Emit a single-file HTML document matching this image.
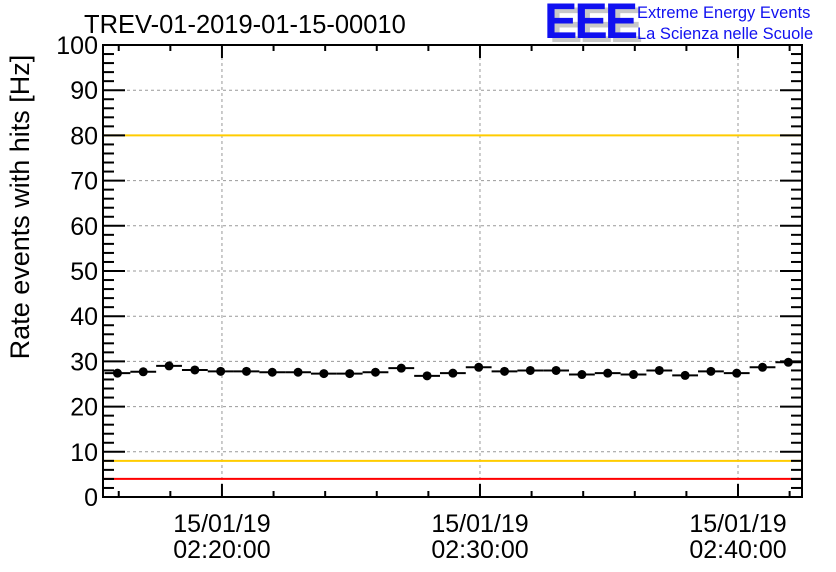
<!DOCTYPE html>
<html><head><meta charset="utf-8"><style>
body{margin:0;background:#fff;}
svg{display:block;font-family:"Liberation Sans",sans-serif;}
</style></head><body>
<svg id="chart" width="836" height="572" viewBox="0 0 836 572" xmlns="http://www.w3.org/2000/svg">
<rect width="836" height="572" fill="#fff"/>
<text x="84" y="33" font-size="25.5" fill="#000">TREV-01-2019-01-15-00010</text>
<g>
<text x="549" y="42" font-size="50" font-weight="bold" fill="#c8c8c8" letter-spacing="-3">EEE</text>
<text x="544" y="38" font-size="50" font-weight="bold" fill="#1010f0" letter-spacing="-3">EEE</text>
<text x="637" y="18" font-size="16.5" fill="#1010f0">Extreme Energy Events</text>
<text x="637" y="39" font-size="16.5" fill="#1010f0">La Scienza nelle Scuole</text>
</g>
<text transform="translate(29,207) rotate(-90)" text-anchor="middle" font-size="27" fill="#000">Rate events with hits [Hz]</text>
<g id="grid"></g><g id="thr"></g><g id="axes"></g><g id="marks"></g>
</svg>
<script>
const minutes = [15.95,16.95,17.95,18.95,19.95,20.95,21.95,22.95,23.95,24.95,25.95,26.95,27.95,28.95,29.95,30.95,31.95,32.95,33.95,34.95,35.95,36.95,37.95,38.95,39.95,40.95,41.95];
const rates = [27.4,27.7,29.0,28.1,27.8,27.8,27.6,27.6,27.3,27.3,27.6,28.5,26.8,27.4,28.7,27.8,28.0,28.0,27.1,27.4,27.1,28.0,26.9,27.8,27.4,28.7,29.8];
const yTicks = [0,10,20,30,40,50,60,70,80,90,100];
const xTickMinutes = [20,30,40];
const xTickLabels = [["15/01/19","02:20:00"],["15/01/19","02:30:00"],["15/01/19","02:40:00"]];
const redLevels = [4,100];
const yellowLevels = [8,80];

const L=103,R=802,T=45,B=497;
const xMin=15.39,xMax=42.48;
const X=m=>L+(m-xMin)/(xMax-xMin)*(R-L);
const Y=v=>B-v/100*(B-T);
const NS="http://www.w3.org/2000/svg";
function mk(tag,attrs,parent){const e=document.createElementNS(NS,tag);for(const k in attrs)e.setAttribute(k,attrs[k]);document.getElementById(parent).appendChild(e);return e;}

yTicks.forEach(v=>{if(v>0&&v<100){const e=mk('line',{x1:L,x2:R,y1:Y(v),y2:Y(v),stroke:'#999','stroke-dasharray':'3,3','stroke-width':1},'grid');

}});
xTickMinutes.forEach(m=>{const e=mk('line',{x1:X(m),x2:X(m),y1:T,y2:B,stroke:'#999','stroke-dasharray':'3,3','stroke-width':1},'grid');

});
redLevels.forEach(v=>{const e=mk('line',{x1:L,x2:R,y1:Y(v),y2:Y(v),stroke:'#f00','stroke-width':2},'thr');

});
yellowLevels.forEach(v=>{const e=mk('line',{x1:L,x2:R,y1:Y(v),y2:Y(v),stroke:'#fc0','stroke-width':2},'thr');

});
const fr=mk('rect',{x:L,y:T,width:R-L,height:B-T,fill:'none',stroke:'#000','stroke-width':2},'axes');


for(let v=0;v<=100;v+=2){const major=v%10===0;const len=major?22:11;
 mk('line',{x1:L,x2:L+len,y1:Y(v),y2:Y(v),stroke:'#000','stroke-width':2},'axes');
 mk('line',{x1:R,x2:R-len,y1:Y(v),y2:Y(v),stroke:'#000','stroke-width':2},'axes');}
yTicks.forEach(v=>{const t=mk('text',{x:L-5,y:Y(v)+9,'text-anchor':'end','font-size':25,fill:'#000'},'axes');t.textContent=v;

});
for(let m=16;m<=42;m+=2){const major=m%10===0;const len=major?13:6;
 mk('line',{x1:X(m),x2:X(m),y1:B,y2:B-len,stroke:'#000','stroke-width':2},'axes');
 mk('line',{x1:X(m),x2:X(m),y1:T,y2:T+len,stroke:'#000','stroke-width':2},'axes');}
xTickMinutes.forEach((m,i)=>{xTickLabels[i].forEach((s,j)=>{const t=mk('text',{x:X(m),y:532+j*26,'text-anchor':'middle','font-size':25,fill:'#000'},'axes');t.textContent=s;

});});
minutes.forEach((m,i)=>{const y=Y(rates[i]);
 const l=mk('line',{x1:X(m-0.5),x2:X(m+0.5),y1:y,y2:y,stroke:'#000','stroke-width':2},'marks');
 
 
 const c=mk('circle',{cx:X(m),cy:y,r:4.5,fill:'#000'},'marks');
 
 });
</script>
</body></html>
